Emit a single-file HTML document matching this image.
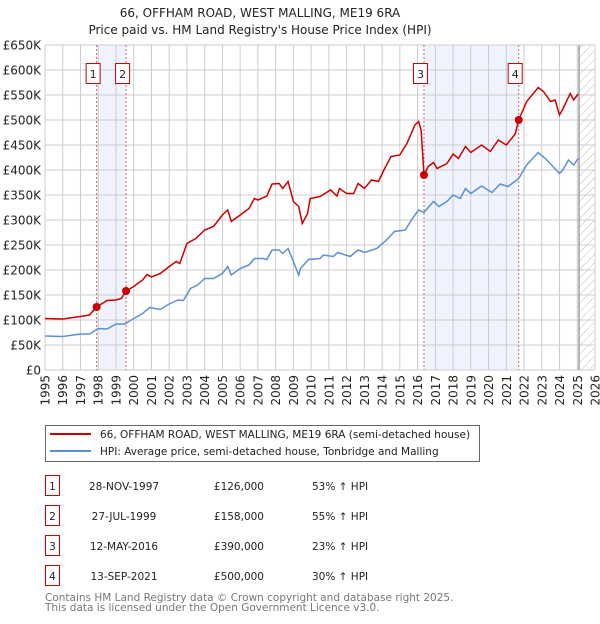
<!DOCTYPE html>
<html><head><meta charset="utf-8"><style>
body{margin:0;background:#fff;width:600px;height:620px;overflow:hidden;font-family:"DejaVu Sans","Liberation Sans",sans-serif;}
svg text{font-family:"DejaVu Sans","Liberation Sans",sans-serif;}
</style></head><body>
<svg id="chart" width="600" height="620" xmlns="http://www.w3.org/2000/svg">
<defs><pattern id="hatch" width="6" height="6" patternUnits="userSpaceOnUse" patternTransform="rotate(45)"><line x1="0" y1="0" x2="0" y2="6" stroke="#bbb" stroke-width="1"/></pattern></defs>
<text x="260" y="17" text-anchor="middle" font-size="12" fill="#222">66, OFFHAM ROAD, WEST MALLING, ME19 6RA</text>
<text x="260" y="34" text-anchor="middle" font-size="12" fill="#222">Price paid vs. HM Land Registry's House Price Index (HPI)</text>
<g id="plot"></g>
<g>
<rect x="45.5" y="425.5" width="434" height="36" fill="#fff" stroke="#666"/>
<line x1="50" y1="434" x2="91" y2="434" stroke="#cc0000" stroke-width="2"/>
<text x="100" y="438" font-size="10.5" fill="#222">66, OFFHAM ROAD, WEST MALLING, ME19 6RA (semi-detached house)</text>
<line x1="50" y1="451" x2="91" y2="451" stroke="#5b8fd4" stroke-width="2"/>
<text x="100" y="455" font-size="10.5" fill="#222">HPI: Average price, semi-detached house, Tonbridge and Malling</text>
</g>
<g id="table" font-size="10.5" fill="#222"></g>
<text x="45" y="601" font-size="10.5" fill="#777">Contains HM Land Registry data © Crown copyright and database right 2025.</text>
<text x="45" y="611" font-size="10.5" fill="#777">This data is licensed under the Open Government Licence v3.0.</text>
</svg>
<script>
const yTicks=[0,50,100,150,200,250,300,350,400,450,500,550,600,650];
const yTickLabels=["£0","£50K","£100K","£150K","£200K","£250K","£300K","£350K","£400K","£450K","£500K","£550K","£600K","£650K"];
const xYears=[1995,1996,1997,1998,1999,2000,2001,2002,2003,2004,2005,2006,2007,2008,2009,2010,2011,2012,2013,2014,2015,2016,2017,2018,2019,2020,2021,2022,2023,2024,2025,2026];
const propYears=[1995,1996,1997,1997.5,1997.9,1998.5,1999,1999.3,1999.57,2000,2000.5,2000.75,2001,2001.5,2002,2002.4,2002.6,2003,2003.5,2004,2004.5,2005,2005.3,2005.5,2006,2006.5,2006.8,2007,2007.5,2007.8,2008.2,2008.4,2008.7,2009,2009.3,2009.5,2009.8,2009.95,2010.5,2011.1,2011.45,2011.6,2012,2012.4,2012.65,2013,2013.4,2013.8,2014.1,2014.5,2015,2015.4,2015.85,2016.05,2016.2,2016.36,2016.6,2016.9,2017.1,2017.65,2018,2018.3,2018.7,2019,2019.6,2020.1,2020.55,2021,2021.5,2021.7,2021.9,2022.15,2022.8,2023.1,2023.5,2023.75,2024,2024.2,2024.6,2024.8,2025.05];
const propValues=[103,102,107,110,126,139,140,143,158,167,180,191,186,193,207,217,213,253,263,280,287,310,320,297,310,323,343,340,348,372,373,363,377,337,327,293,313,343,347,360,348,363,353,353,373,363,380,377,400,427,430,453,490,497,480,390,407,415,403,413,432,423,447,435,450,437,460,450,472,500,517,537,565,557,537,540,510,523,553,540,552];
const hpiYears=[1995,1996,1997,1997.5,1998,1998.5,1999,1999.5,2000,2000.5,2000.9,2001.5,2002,2002.5,2002.8,2003.2,2003.6,2004,2004.5,2005,2005.3,2005.5,2006,2006.5,2006.8,2007.3,2007.5,2007.8,2008.2,2008.4,2008.7,2009,2009.3,2009.4,2009.85,2010.5,2010.7,2011.25,2011.5,2012.2,2012.65,2013,2013.7,2014.25,2014.7,2015.3,2015.6,2016.05,2016.35,2016.9,2017.2,2017.65,2018,2018.4,2018.7,2019,2019.6,2020.2,2020.65,2021.1,2021.7,2022.15,2022.8,2023.2,2023.55,2024,2024.2,2024.5,2024.8,2025.05];
const hpiValues=[68,67,72,72,83,82,92,92,103,113,125,121,132,140,139,163,170,183,183,193,207,190,203,210,223,223,221,240,240,233,243,217,190,203,221,223,230,227,235,227,240,235,243,260,277,280,297,320,315,337,327,337,350,343,363,353,368,355,372,367,383,410,435,423,410,393,401,420,410,423];
const saleYears=[1997.91,1999.57,2016.36,2021.7];
const saleValues=[126,158,390,500];
const saleLabels=["1","2","3","4"];
const saleDates=["28-NOV-1997","27-JUL-1999","12-MAY-2016","13-SEP-2021"];
const salePrices=["£126,000","£158,000","£390,000","£500,000"];
const saleHpi=["53% ↑ HPI","55% ↑ HPI","23% ↑ HPI","30% ↑ HPI"];
const dataEndYear=2025.1;

const L=45,R=595,T=45,B=370;
const xs=y=>L+(y-1995)*(R-L)/31;
const ys=v=>B-v*(B-T)/650;
const NS="http://www.w3.org/2000/svg";
const plot=document.getElementById('plot');
function mk(tag,attrs,parent){const e=document.createElementNS(NS,tag);for(const k in attrs)e.setAttribute(k,attrs[k]);(parent||plot).appendChild(e);return e;}

for(let i=0;i<saleYears.length;i+=2){
  const r=mk('rect',{x:xs(saleYears[i]),y:T,width:xs(saleYears[i+1])-xs(saleYears[i]),height:B-T,fill:'#eef3fd'});
  
  
}
const h=mk('rect',{x:xs(dataEndYear),y:T,width:R-xs(dataEndYear),height:B-T,fill:'url(#hatch)'});


yTicks.forEach((v,i)=>{
  const g=mk('line',{x1:L,x2:R,y1:ys(v),y2:ys(v),stroke:'#cccccc','stroke-width':1});
  
  
  const t=mk('text',{x:L-4,y:ys(v)+4.5,'text-anchor':'end','font-size':'12',fill:'#222'});
  t.textContent=yTickLabels[i];
  
  
});
xYears.forEach(yr=>{
  const g=mk('line',{x1:xs(yr),x2:xs(yr),y1:T,y2:B,stroke:'#cccccc','stroke-width':1});
  
  
  const t=mk('text',{x:0,y:0,'text-anchor':'end','font-size':'12',fill:'#222',transform:`translate(${xs(yr)+4.5},${B+5}) rotate(-90)`});
  t.textContent=yr;
  
  
});
const el=mk('line',{x1:xs(dataEndYear),x2:xs(dataEndYear),y1:T,y2:B,stroke:'#888','stroke-width':1.2});


saleYears.forEach(yr=>{
  const l=mk('line',{x1:xs(yr),x2:xs(yr),y1:T,y2:B,stroke:'#e06060','stroke-width':1,'stroke-dasharray':'2,2'});
  
  
});
function path(xa,va){return xa.map((x,i)=>(i?'L':'M')+xs(x).toFixed(1)+','+ys(va[i]).toFixed(1)).join('');}
const hp=mk('path',{d:path(hpiYears,hpiValues),fill:'none',stroke:'#5b8fd4','stroke-width':1.5});


const pp=mk('path',{d:path(propYears,propValues),fill:'none',stroke:'#cc0000','stroke-width':1.5});


saleYears.forEach((yr,i)=>{
  const c=mk('circle',{cx:xs(yr),cy:ys(saleValues[i]),r:4,fill:'#cc0000'});
  
  
  const b=mk('rect',{x:xs(yr)-10.5,y:63.5,width:14,height:20,fill:'#fff',stroke:'#cc0000','stroke-width':1});
  
  
  const t=mk('text',{x:xs(yr)-3.5,y:78,'text-anchor':'middle','font-size':'11',fill:'#222'});
  t.textContent=saleLabels[i];
  
  
});
const tb=document.getElementById('table');
saleLabels.forEach((lab,i)=>{
  const y=489+i*30;
  const b=mk('rect',{x:45.5,y:y-13.5,width:14,height:20,fill:'#fff',stroke:'#cc0000','stroke-width':1},tb);
  
  
  const cells=[[lab,52.5,'middle'],[saleDates[i],124,'middle'],[salePrices[i],264,'end'],[saleHpi[i],312,'start']];
  cells.forEach((c,j)=>{
    const t=mk('text',{x:c[1],y:y+1,'text-anchor':c[2],'font-size':'10.5',fill:'#222'},tb);
    t.textContent=c[0];
    
    
  });
});
</script>
</body></html>
